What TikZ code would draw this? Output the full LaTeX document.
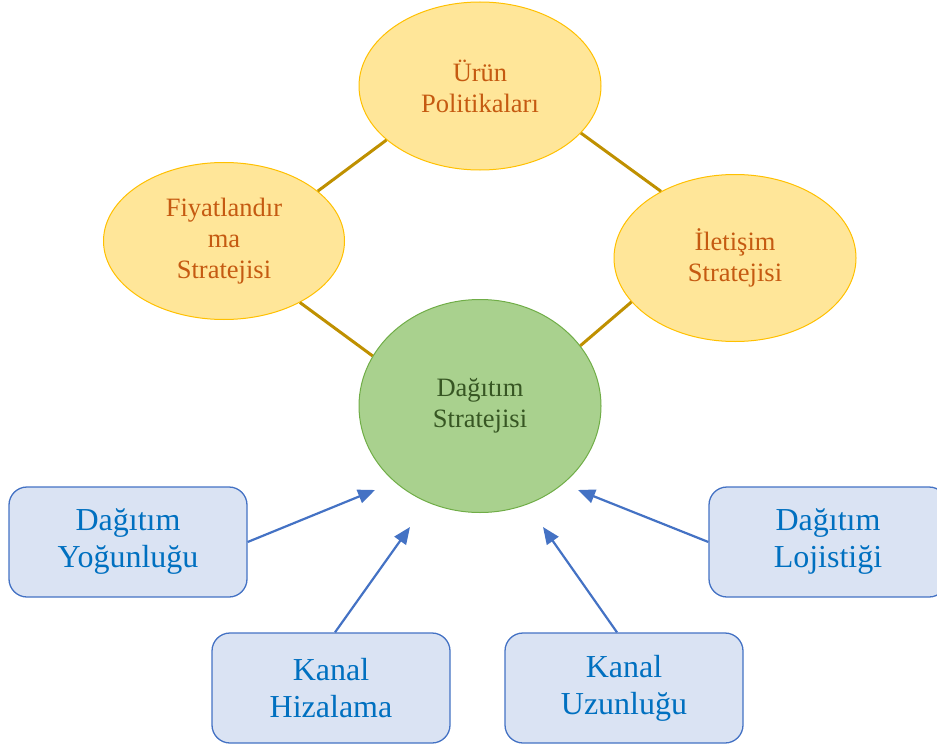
\documentclass[tikz,border=0pt]{standalone}
\usepackage{fontspec}
\setmainfont{Liberation Serif}
\usetikzlibrary{arrows.meta,shapes.geometric}
\definecolor{sari}{HTML}{FFE699}
\definecolor{sarikenar}{HTML}{FFC000}
\definecolor{turuncu}{HTML}{C55A11}
\definecolor{yesil}{HTML}{A9D18E}
\definecolor{yesilkenar}{HTML}{70AD47}
\definecolor{koyuyesil}{HTML}{375623}
\definecolor{altin}{HTML}{BF9000}
\definecolor{mavi}{HTML}{4472C4}
\definecolor{acikmavi}{HTML}{DAE3F3}
\definecolor{koyumavi}{HTML}{0070C0}
\begin{document}
\begin{tikzpicture}[x=1pt,y=-1pt,
    oval/.style={ellipse,draw=sarikenar,fill=sari,text=turuncu,line width=1pt,
      inner sep=0pt,align=center,font=\fontsize{26.5}{31}\selectfont},
    merkez/.style={oval,draw=yesilkenar,fill=yesil,text=koyuyesil},
    kutu/.style={rectangle,rounded corners=18pt,draw=mavi,fill=acikmavi,text=koyumavi,
      line width=1.3pt,minimum width=238pt,minimum height=110pt,align=center,
      font=\fontsize{32}{37}\selectfont},
    bag/.style={line width=3pt,draw=altin},
    ok/.style={line width=2.2pt,draw=mavi,-{Triangle[length=17pt,width=14pt]}}]
      \useasboundingbox (0,0) rectangle (937,749);
      \draw
        (480,86) node[oval,minimum width=242pt,minimum height=168pt] (urun){Ürün\\Politikaları}
        (224,241) node[oval,minimum width=241pt,minimum height=157pt] (fiyat){Fiyatlandır\\ma\\Stratejisi}
        (735,258) node[oval,minimum width=242pt,minimum height=167pt] (iletisim){İletişim\\Stratejisi}
        (480,406) node[merkez,minimum width=242pt,minimum height=213pt] (strateji){Dağıtım\\Stratejisi};
      \draw
        (128,542) node[kutu] (yogunluk){Dağıtım\\Yoğunluğu}
        (331,688) node[kutu] (hizalama){Kanal\\Hizalama}
        (624,688) node[kutu] (uzunluk){Kanal\\Uzunluğu}
        (828,542) node[kutu] (lojistik){Dağıtım\\Lojistiği};
      % uclar
      \coordinate (uc1) at (375,490);
      \coordinate (uc2) at (410,527);
      \coordinate (uc3) at (543,527);
      \coordinate (uc4) at (578,490);
      \begin{scope}[bag]
        \draw (urun.210) to (fiyat.28);
        \draw (urun.-25) to (iletisim.138);
        \draw (fiyat.-39) to (strateji.155);
        \draw (iletisim.203) to (strateji.31);
      \end{scope}
      \begin{scope}[ok]
        \draw (yogunluk.east) to (uc1);
        \draw ([xshift=4pt]hizalama.north) to (uc2);
        \draw ([xshift=-7pt]uzunluk.north) to (uc3);
        \draw (lojistik.west) to (uc4);
      \end{scope}
    \end{tikzpicture}
\end{document}
